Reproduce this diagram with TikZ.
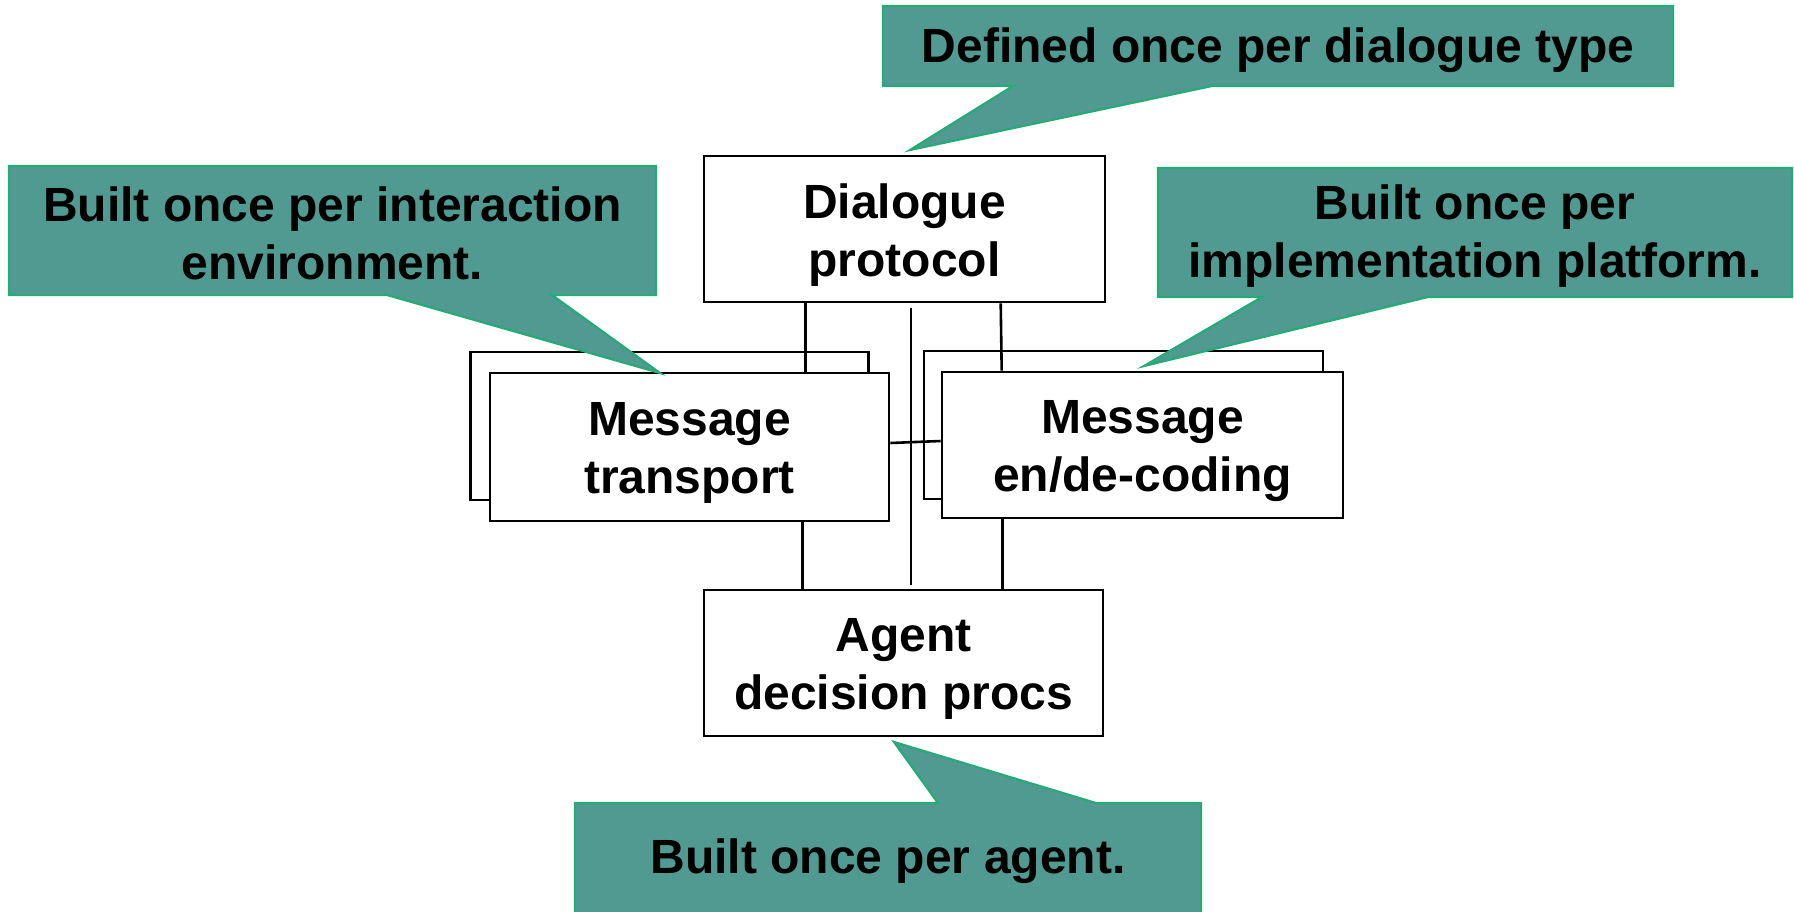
\documentclass[tikz,border=0pt]{standalone}
\usepackage{fontspec}
\setmainfont{Liberation Sans}
\usetikzlibrary{calc}
\definecolor{calloutfill}{RGB}{80,154,145}
\definecolor{calloutedge}{RGB}{38,170,118}
\begin{document}
\begin{tikzpicture}[x=0.5pt,y=-0.5pt,
  every node/.style={font=\fontsize{24}{29}\selectfont\bfseries, align=center},
  unit/.style={draw=black, line width=1.3pt, fill=white, inner sep=0pt,
    minimum width=#1},
  unit/.default=200pt,
  unittext/.style={inner sep=0pt, yshift=-2.8pt},
  link/.style={draw=black, line width=1.3pt},
  callout/.style={fill=calloutfill, draw=calloutedge, line width=1.1pt, line join=miter},
  ctext/.style={inner sep=0pt, text=black}]
\useasboundingbox (0,0) rectangle (1794,911);
\clip (0,0) rectangle (1794,911);

% stacked component boxes, captions set slightly below centre
\node[unit=199pt, minimum height=74pt] (mtback) at (669.5,426) {};
\node[unit=199.5pt, minimum height=74pt,
  label={[unittext]center:Message\\transport}] (mt) at (689.5,447) {};
\node[unit=199.5pt, minimum height=74pt] (enback) at (1123.5,425) {};
\node[unit=200.5pt, minimum height=73pt,
  label={[unittext]center:Message\\en/de-coding}] (en) at (1142.5,445) {};
\node[unit=200.5pt, minimum height=73pt,
  label={[unittext]center:Dialogue\\protocol}] (dp) at (904.5,229) {};
\node[unit=199.5pt, minimum height=73pt,
  label={[unittext]center:Agent\\decision procs}] (ag) at (903.5,663) {};

% connections between the components
\draw[link] ($(dp.south west)+(103,0)$) -- ($(mt.north west)+(317,0)$);
\draw[link] ($(dp.south)+(6.5,5)$) -- ($(ag.north)+(7.5,-4)$);
\draw[link] ($(dp.south west)+(298,0)$) -- ($(en.north west)+(61,0)$);
\draw[link] ($(mt.east)+(0,-4)$) -- ($(en.west)+(0,-4)$);
\draw[link] ($(mt.south west)+(314,0)$) -- ($(ag.north west)+(100,0)$);
\draw[link] ($(en.south west)+(62,0)$) -- ($(ag.north west)+(300,0)$);

% callouts
\path[callout] (883,6) -- (1673,6) -- (1673,86) -- (1212,86) -- (910,150)
  -- (1013,86) -- (883,86) -- cycle;
\node[ctext] (c1) at (1278,50) {Defined once per dialogue type};

\path[callout] (9,166) -- (656,166) -- (656,295) -- (552,295) -- (660,373)
  -- (387,295) -- (9,295) -- cycle;
\node[ctext] (c2) at (332.5,233) {Built once per interaction\\environment.};

\path[callout] (1158,168) -- (1792,168) -- (1792,297) -- (1428,297) -- (1144,366)
  -- (1262,297) -- (1158,297) -- cycle;
\node[ctext] (c3) at (1475,236) {Built once per\\implementation platform.};

\path[callout] (575,803) -- (938,803) -- (894,742) -- (1096,803) -- (1201,803)
  -- (1201,930) -- (575,930) -- cycle;
\node[ctext] (c4) at (888,861) {Built once per agent.};
\end{tikzpicture}
\end{document}
